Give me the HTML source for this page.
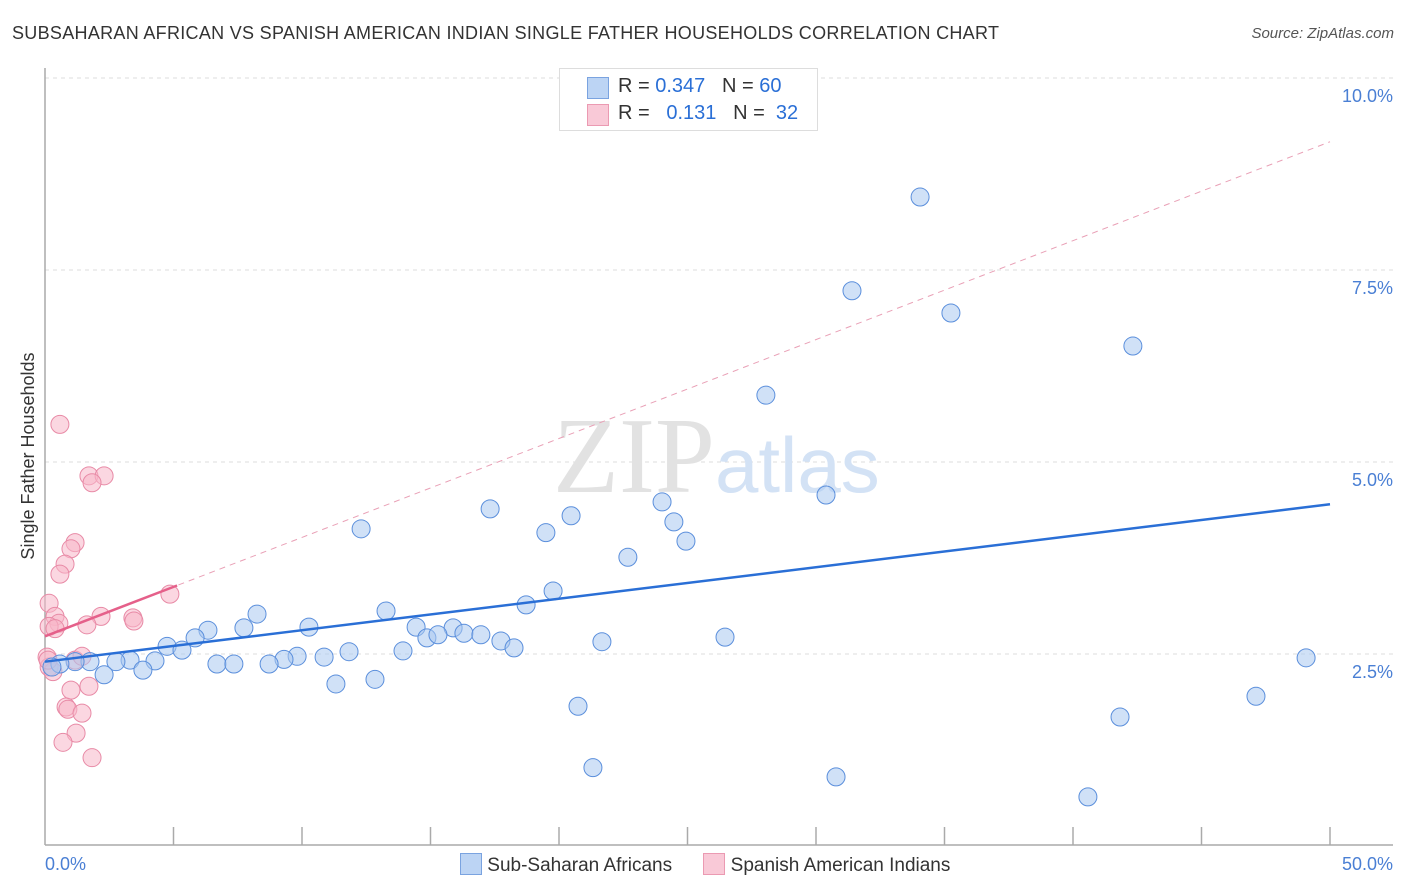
<!DOCTYPE html>
<html><head><meta charset="utf-8">
<style>
body{margin:0;background:#fff;font-family:"Liberation Sans",sans-serif;}
#wrap{position:relative;width:1406px;height:892px;overflow:hidden}
.title{position:absolute;left:12px;top:23px;font-size:18px;color:#333;letter-spacing:0.3px}
.src{position:absolute;right:12px;top:25px;font-size:15px;color:#555;font-style:italic}
</style></head>
<body>
<div id="wrap">
<div class="title">SUBSAHARAN AFRICAN VS SPANISH AMERICAN INDIAN SINGLE FATHER HOUSEHOLDS CORRELATION CHART</div>
<div class="src">Source: ZipAtlas.com</div>
<svg id="svg" width="1406" height="892" style="position:absolute;left:0;top:0"></svg>
</div>
<script>
const blueX=[34.05,31.40,35.25,42.33,28.05,30.39,17.32,20.47,24.01,24.47,24.94,19.49,12.30,22.68,19.77,18.72,13.27,8.25,6.34,7.74,10.27,14.44,15.88,14.86,15.29,16.30,16.96,17.74,18.25,21.67,26.46,4.75,5.33,5.84,11.83,13.93,9.81,9.30,10.86,8.72,6.69,7.35,4.28,3.31,2.76,3.81,2.30,1.75,1.17,0.58,0.27,11.32,12.84,20.74,21.32,30.78,40.58,41.83,47.12,49.07];
const blueY=[8.45,7.23,6.94,6.51,5.87,4.57,4.39,4.30,4.48,4.22,3.97,4.08,4.13,3.76,3.32,3.14,3.06,3.02,2.81,2.84,2.85,2.85,2.84,2.71,2.75,2.77,2.75,2.67,2.58,2.66,2.72,2.60,2.55,2.71,2.53,2.54,2.47,2.43,2.46,2.37,2.37,2.37,2.41,2.42,2.40,2.29,2.23,2.40,2.40,2.37,2.33,2.11,2.17,1.82,1.02,0.90,0.64,1.68,1.95,2.45];
const pinkX=[0.58,1.71,2.30,1.83,1.17,1.01,0.78,0.58,0.16,0.39,0.54,2.18,1.63,3.42,3.46,4.86,0.16,0.39,0.08,0.16,0.31,1.17,1.44,1.01,1.71,0.82,0.89,1.44,1.21,0.70,1.83,0.12];
const pinkY=[5.49,4.82,4.82,4.73,3.95,3.87,3.67,3.54,3.16,2.99,2.90,2.99,2.88,2.97,2.93,3.28,2.86,2.83,2.46,2.33,2.27,2.42,2.47,2.03,2.08,1.81,1.78,1.73,1.47,1.35,1.15,2.42];
const blueTrend=[2.40,4.45];
const pinkTrend=[2.73,9.17];
const yTicks=[2.5,5.0,7.5,10.0];
const xTickLabels=["0.0%","50.0%"];
const NS="http://www.w3.org/2000/svg";
const svg=document.getElementById('svg');
const X=v=>45+v*25.7, Y=v=>846-v*76.8;
function mk(t,a){const e=document.createElementNS(NS,t);for(const k in a)e.setAttribute(k,a[k]);svg.appendChild(e);return e;}
yTicks.forEach(t=>{
 const g=mk('line',{x1:45,x2:1393,y1:Y(t),y2:Y(t),stroke:'#ddd','stroke-dasharray':'4,4'});
 
 
 const l=mk('text',{x:1393,y:Y(t)+24,'text-anchor':'end','font-size':18,fill:'#4a7fd4'});
 l.textContent=t.toFixed(1)+'%';
 
 
});
let ax=mk('line',{x1:45,x2:45,y1:68,y2:845,stroke:'#aaa','stroke-width':1.5});


ax=mk('line',{x1:45,x2:1393,y1:845,y2:845,stroke:'#aaa','stroke-width':1.5});


for(let i=1;i<=10;i++){const t=mk('line',{x1:X(i*5),x2:X(i*5),y1:827,y2:845,stroke:'#aaa','stroke-width':1.5});
 
 }
[[0,'start',45],[1,'end',1393]].forEach(([i,a,x])=>{const l=mk('text',{x:x,y:870,'text-anchor':a,'font-size':18,fill:'#4a7fd4'});l.textContent=xTickLabels[i];
 
 });
const yt=mk('text',{x:34,y:456,'text-anchor':'middle','font-size':18,fill:'#333',transform:'rotate(-90 34 456)'});
yt.textContent='Single Father Households';


const wm=mk('text',{x:553,y:492,'text-anchor':'start','font-size':108,fill:'#e2e2e2','font-family':'Liberation Serif'});
wm.innerHTML='ZIP<tspan font-family="Liberation Sans" font-size="78" fill="#d3e2f5">atlas</tspan>';


function pts(xs,ys,fill,stroke,name){xs.forEach((x,i)=>{const c=mk('circle',{cx:X(x),cy:Y(ys[i]),r:9,fill:fill,stroke:stroke,'stroke-width':1,'fill-opacity':0.55});
 
 });}
pts(pinkX,pinkY,'#f7b6c8','#e88aa6','pink-point');
pts(blueX,blueY,'#a9c8f0','#5b8fdc','blue-point');
let ln=mk('line',{x1:X(0),y1:Y(blueTrend[0]),x2:X(50),y2:Y(blueTrend[1]),stroke:'#2a6fd6','stroke-width':2.5});


ln=mk('line',{x1:X(0),y1:Y(pinkTrend[0]),x2:X(50),y2:Y(pinkTrend[1]),stroke:'#e9a0b6','stroke-width':1,'stroke-dasharray':'6,5'});


const px=5.14;
ln=mk('line',{x1:X(0),y1:Y(pinkTrend[0]),x2:X(px),y2:Y(pinkTrend[0]+(pinkTrend[1]-pinkTrend[0])*px/50),stroke:'#e5608a','stroke-width':2.5});


</script>
<div style="position:absolute;left:559px;top:68px;width:257px;height:61px;border:1px solid #ddd;background:#fff;font-size:20px;color:#333">
 <div style="position:absolute;left:27px;top:8px;width:20px;height:20px;background:#bcd4f4;border:1px solid #7aa3e0"></div>
 <div style="position:absolute;left:58px;top:6px">R = <span style="color:#2a6fd6">0.347</span>&nbsp;&nbsp;&nbsp;N = <span style="color:#2a6fd6">60</span></div>
 <div style="position:absolute;left:27px;top:35px;width:20px;height:20px;background:#f9c9d7;border:1px solid #eb9ab2"></div>
 <div style="position:absolute;left:58px;top:33px">R = &nbsp;&nbsp;<span style="color:#2a6fd6">0.131</span>&nbsp;&nbsp;&nbsp;N = &nbsp;<span style="color:#2a6fd6">32</span></div>
</div>
<div style="position:absolute;left:460px;top:853px;font-size:19px;color:#333;white-space:nowrap">
 <span><span style="display:inline-block;width:20px;height:20px;background:#bcd4f4;border:1px solid #7aa3e0;vertical-align:-4px"></span> Sub-Saharan Africans</span>
 <span style="margin-left:26px"><span style="display:inline-block;width:20px;height:20px;background:#f9c9d7;border:1px solid #eb9ab2;vertical-align:-4px"></span> Spanish American Indians</span>
</div>
</body></html>
